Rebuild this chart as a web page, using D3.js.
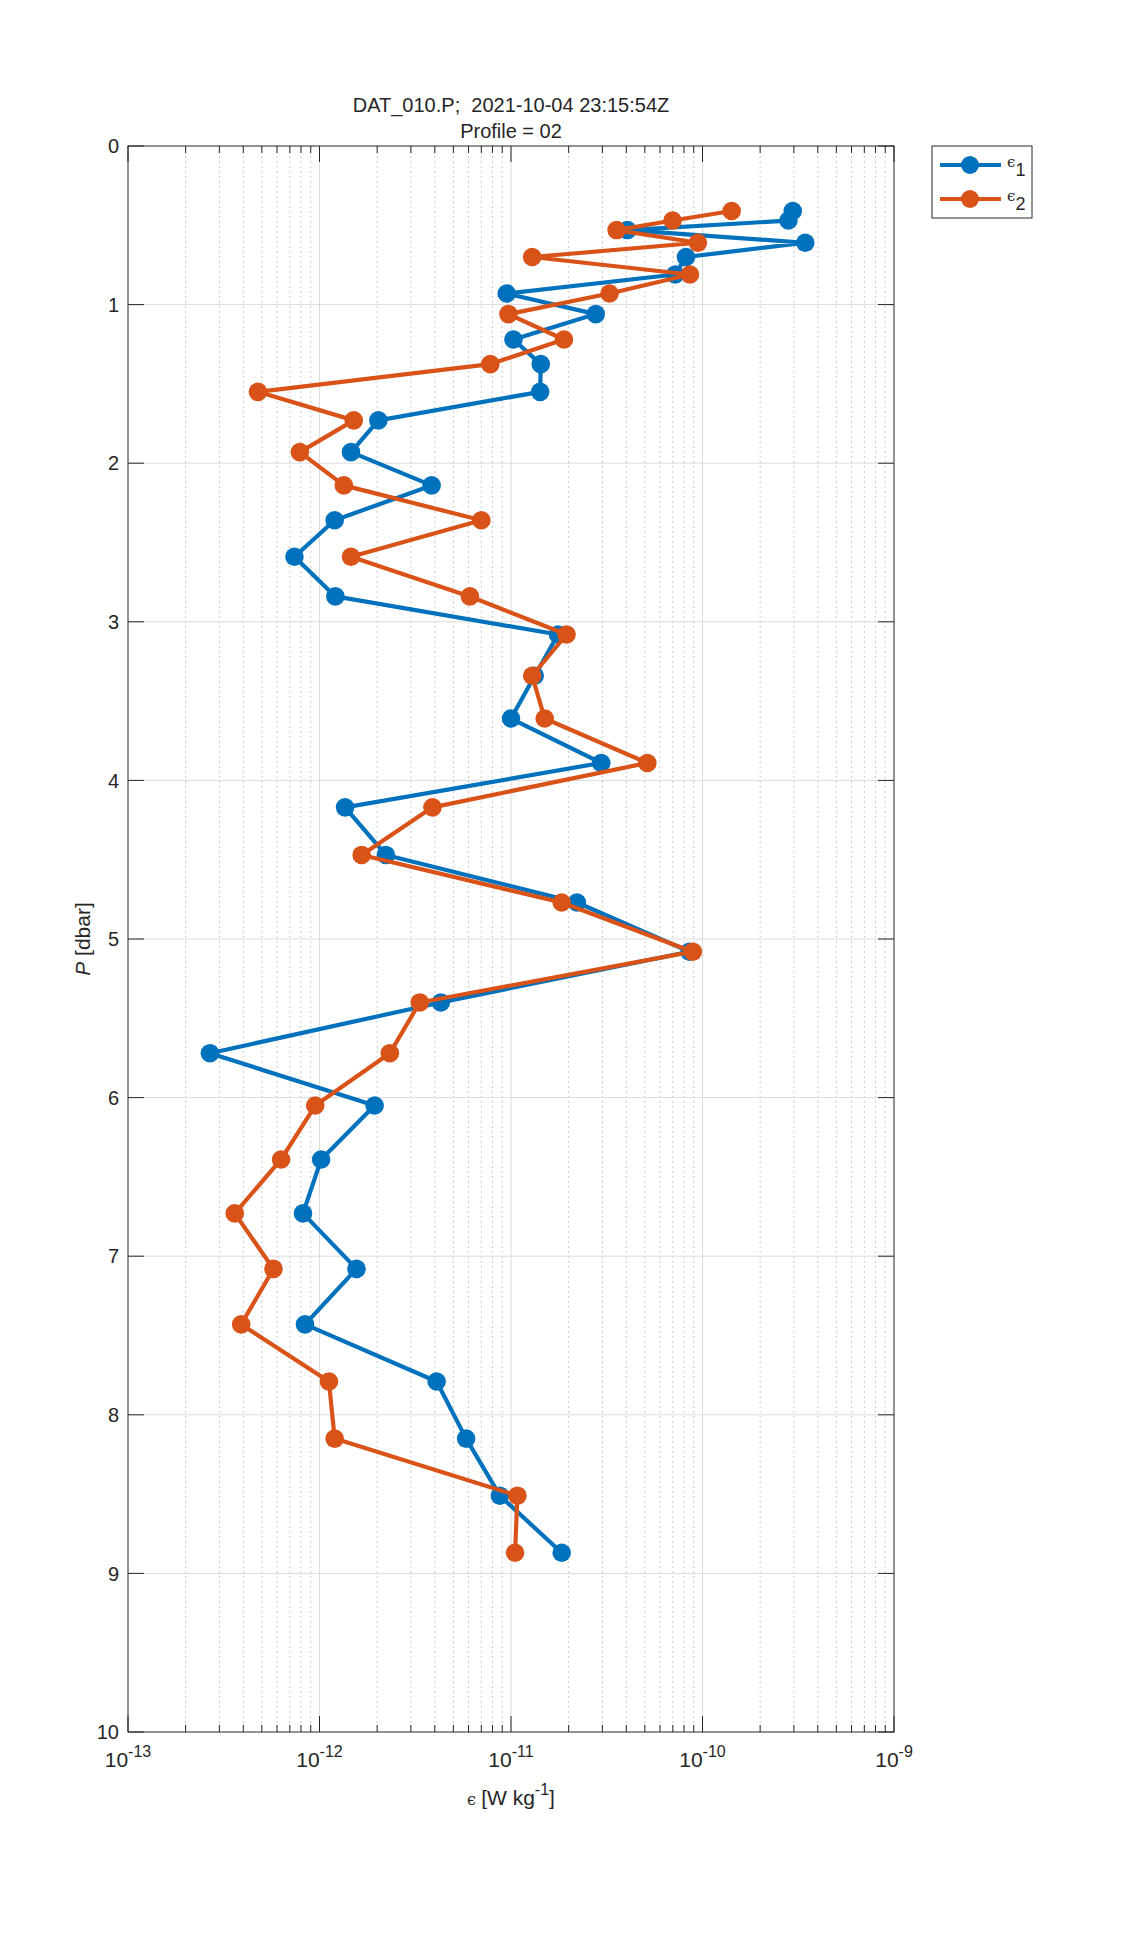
<!DOCTYPE html>
<html lang="en">
<head>
    <meta charset="UTF-8">
    <title>Profile 02</title>
    <script src="https://d3js.org/d3.v7.min.js"></script>
    <style>
        body { margin: 0; background: #fff; }
        text {
            font-family: 'Liberation Sans', Arial, Helvetica, sans-serif;
            fill: #262626;
        }
    </style>
</head>
<body>
<script>

    const width  = 1126;
    const height = 1946;

    // pressure [dbar] of each estimate (shared by both probes)
    const pressure = [0.41, 0.47, 0.53, 0.61, 0.70, 0.81, 0.93, 1.06, 1.22, 1.375,
                      1.55, 1.73, 1.93, 2.14, 2.36, 2.59, 2.84, 3.08, 3.34, 3.61,
                      3.89, 4.17, 4.47, 4.77, 5.08, 5.40, 5.72, 6.05, 6.39, 6.73,
                      7.08, 7.43, 7.79, 8.15, 8.51, 8.87];

    // epsilon from shear probe 1
    const eps1 = [2.96e-10, 2.81e-10, 4.05e-11, 3.44e-10, 8.2e-11, 7.2e-11, 9.5e-12, 2.77e-11, 1.03e-11, 1.43e-11,
                  1.42e-11, 2.03e-12, 1.46e-12, 3.85e-12, 1.2e-12, 7.4e-13, 1.21e-12, 1.76e-11, 1.33e-11, 1.0e-11,
                  2.96e-11, 1.36e-12, 2.22e-12, 2.21e-11, 8.55e-11, 4.3e-12, 2.68e-13, 1.94e-12, 1.02e-12, 8.2e-13,
                  1.56e-12, 8.4e-13, 4.09e-12, 5.83e-12, 8.75e-12, 1.84e-11];

    // epsilon from shear probe 2
    const eps2 = [1.42e-10, 6.98e-11, 3.56e-11, 9.46e-11, 1.29e-11, 8.6e-11, 3.27e-11, 9.7e-12, 1.89e-11, 7.8e-12,
                  4.77e-13, 1.51e-12, 7.9e-13, 1.34e-12, 7.0e-12, 1.46e-12, 6.1e-12, 1.95e-11, 1.29e-11, 1.5e-11,
                  5.15e-11, 3.89e-12, 1.66e-12, 1.84e-11, 8.9e-11, 3.34e-12, 2.33e-12, 9.5e-13, 6.3e-13, 3.61e-13,
                  5.75e-13, 3.9e-13, 1.12e-12, 1.2e-12, 1.08e-11, 1.05e-11];

    const xExponents = [-13, -12, -11, -10, -9];
    const yTicks = [0, 1, 2, 3, 4, 5, 6, 7, 8, 9, 10];

    const seriesNames = ['1', '2'];
    const colors = ['#0072BD', '#D95319'];

    const plot = {left: 128, right: 894, top: 146, bottom: 1732};

    const x = d3.scaleLog()
            .domain([1e-13, 1e-9])
            .range([plot.left, plot.right]);
    const y = d3.scaleLinear()
            .domain([0, 10])
            .range([plot.top, plot.bottom]);

    const svg = d3.select("body")
            .append("svg")
            .attr("width", width)
            .attr("height", height);

    svg.append("rect").attr("width", width).attr("height", height).attr("fill", "#fff");

    // minor x positions 2..9 of each decade
    const minorX = [];
    xExponents.slice(0, -1).forEach(e => {
        for (let k = 2; k <= 9; k++) minorX.push(k * Math.pow(10, e));
    });
    const majorX = xExponents.map(e => Math.pow(10, e));

    const grid = svg.append("g");
    grid.selectAll(".minor")
            .data(minorX).enter()
            .append("line").attr("class", "minor")
            .attr("x1", d => x(d)).attr("x2", d => x(d))
            .attr("y1", plot.top).attr("y2", plot.bottom)
            .attr("stroke", "#cacaca")
            .attr("stroke-width", 1)
            .attr("stroke-dasharray", "2,3");
    grid.selectAll(".majorx")
            .data(majorX.slice(1, -1)).enter()
            .append("line").attr("class", "majorx")
            .attr("x1", d => x(d)).attr("x2", d => x(d))
            .attr("y1", plot.top).attr("y2", plot.bottom)
            .attr("stroke", "#dcdcdc")
            .attr("stroke-width", 1);
    grid.selectAll(".majory")
            .data(yTicks.slice(1, -1)).enter()
            .append("line").attr("class", "majory")
            .attr("x1", plot.left).attr("x2", plot.right)
            .attr("y1", d => y(d)).attr("y2", d => y(d))
            .attr("stroke", "#dcdcdc")
            .attr("stroke-width", 1);

    // data
    const line = d3.line()
            .x(d => x(d[0]))
            .y(d => y(d[1]));

    [eps1, eps2].forEach((eps, i) => {
        const pts = eps.map((v, j) => [v, pressure[j]]);
        const g = svg.append("g");
        g.append("path")
                .datum(pts)
                .attr("d", line)
                .attr("fill", "none")
                .attr("stroke", colors[i])
                .attr("stroke-width", 4.2)
                .attr("stroke-linejoin", "round");
        g.selectAll("circle")
                .data(pts).enter()
                .append("circle")
                .attr("cx", d => x(d[0]))
                .attr("cy", d => y(d[1]))
                .attr("r", 9.3)
                .attr("fill", colors[i]);
    });

    // box and ticks
    const axes = svg.append("g").attr("stroke", "#262626").attr("stroke-width", 1);
    axes.append("rect")
            .attr("x", plot.left).attr("y", plot.top)
            .attr("width", plot.right - plot.left)
            .attr("height", plot.bottom - plot.top)
            .attr("fill", "none");

    const majorLen = 16, minorLen = 7;
    majorX.forEach(v => {
        axes.append("line").attr("x1", x(v)).attr("x2", x(v))
                .attr("y1", plot.bottom).attr("y2", plot.bottom - majorLen);
        axes.append("line").attr("x1", x(v)).attr("x2", x(v))
                .attr("y1", plot.top).attr("y2", plot.top + majorLen);
    });
    minorX.forEach(v => {
        axes.append("line").attr("x1", x(v)).attr("x2", x(v))
                .attr("y1", plot.bottom).attr("y2", plot.bottom - minorLen);
        axes.append("line").attr("x1", x(v)).attr("x2", x(v))
                .attr("y1", plot.top).attr("y2", plot.top + minorLen);
    });
    yTicks.forEach(v => {
        axes.append("line").attr("x1", plot.left).attr("x2", plot.left + majorLen)
                .attr("y1", y(v)).attr("y2", y(v));
        axes.append("line").attr("x1", plot.right).attr("x2", plot.right - majorLen)
                .attr("y1", y(v)).attr("y2", y(v));
    });

    // y tick labels
    svg.selectAll(".ylab")
            .data(yTicks).enter()
            .append("text").attr("class", "ylab")
            .attr("x", plot.left - 9)
            .attr("y", d => y(d))
            .attr("dy", "0.36em")
            .attr("text-anchor", "end")
            .style("font-size", "20px")
            .text(d => d);

    // x tick labels 10^n
    xExponents.forEach(e => {
        const t = svg.append("text")
                .attr("x", x(Math.pow(10, e)))
                .attr("y", plot.bottom + 35)
                .attr("text-anchor", "middle")
                .style("font-size", "21px");
        t.append("tspan").text("10");
        t.append("tspan").attr("dy", -10).style("font-size", "16px").text(String(e));
    });

    // x axis label
    const xl = svg.append("text")
            .attr("x", (plot.left + plot.right) / 2)
            .attr("y", plot.bottom + 73)
            .attr("text-anchor", "middle")
            .style("font-size", "21px");
    xl.append("tspan").style("font-size", "16px").style("font-family", "'DejaVu Serif', serif").text("\u03F5 ");
    xl.append("tspan").text("[W kg");
    xl.append("tspan").attr("dy", -10).style("font-size", "16px").text("-1");
    xl.append("tspan").attr("dy", 10).text("]");

    // y axis label
    const yl = svg.append("text")
            .attr("transform", "translate(90," + ((plot.top + plot.bottom) / 2) + ") rotate(-90)")
            .attr("text-anchor", "middle")
            .style("font-size", "21px");
    yl.append("tspan").style("font-style", "italic").text("P");
    yl.append("tspan").text(" [dbar]");

    // title
    svg.append("text")
            .attr("x", (plot.left + plot.right) / 2)
            .attr("y", 112)
            .attr("text-anchor", "middle")
            .style("font-size", "20px")
            .attr("xml:space", "preserve")
            .text("DAT_010.P;  2021-10-04 23:15:54Z");
    svg.append("text")
            .attr("x", (plot.left + plot.right) / 2)
            .attr("y", 138)
            .attr("text-anchor", "middle")
            .style("font-size", "20px")
            .text("Profile = 02");

    // legend
    const legend = svg.append("g");
    legend.append("rect")
            .attr("x", 932).attr("y", 146)
            .attr("width", 100).attr("height", 72)
            .attr("fill", "#fff")
            .attr("stroke", "#262626")
            .attr("stroke-width", 1);
    seriesNames.forEach((name, i) => {
        const ly = 165 + i * 34;
        legend.append("line")
                .attr("x1", 940).attr("x2", 1001)
                .attr("y1", ly).attr("y2", ly)
                .attr("stroke", colors[i])
                .attr("stroke-width", 4.2);
        legend.append("circle")
                .attr("cx", 970).attr("cy", ly)
                .attr("r", 9)
                .attr("fill", colors[i]);
        const t = legend.append("text")
                .attr("x", 1007).attr("y", ly + 2)
                .style("font-size", "15px");
        t.append("tspan").style("font-family", "'DejaVu Serif', serif").text("\u03F5");
        t.append("tspan").attr("dy", 9).style("font-size", "18px").text(name);
    });

</script>
</body>
</html>
